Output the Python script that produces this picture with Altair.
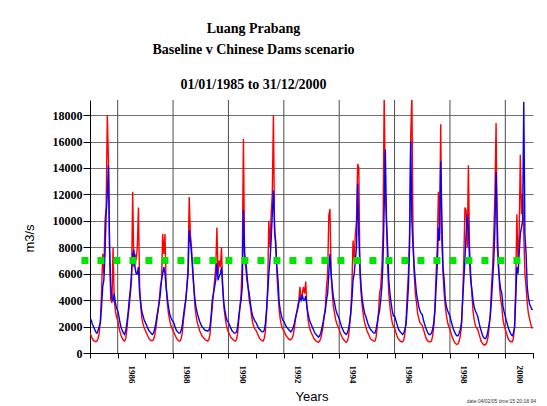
import altair as alt
import pandas as pd

# ---------------- data (semi-monthly samples) ----------------
years = list(range(1985, 2001))
samples_per_year = 24

# red: Baseline (m3/s), 24 values per year, Jan 1 .. Dec 16
baseline = [
    1500, 1300, 1100, 950, 900, 850, 900, 1100, 1500, 2500, 4500, 7500, 6000, 10000, 11000, 18000, 14500, 7500, 4000, 3800, 8000, 4000, 3200, 2700,  # 1985
    2500, 2000, 1600, 1300, 1100, 950, 900, 1100, 1800, 2800, 3500, 4500, 5500, 12200, 6500, 7500, 7000, 8000, 11000, 5000, 3500, 2600, 2200, 1900,  # 1986
    1700, 1500, 1300, 1100, 1000, 950, 950, 1000, 1300, 1800, 2500, 3200, 4000, 5000, 5500, 9000, 7500, 9000, 5000, 3800, 3000, 2500, 2100, 1900,  # 1987
    1700, 1500, 1300, 1100, 1000, 900, 900, 1100, 1500, 2500, 3200, 4000, 5000, 6500, 11800, 9000, 8000, 6000, 5000, 3500, 2800, 2300, 2000, 1700,  # 1988
    1500, 1300, 1200, 1100, 1000, 950, 900, 1000, 1400, 2500, 3500, 4500, 5500, 6500, 9500, 6000, 7000, 6500, 8000, 5000, 3500, 2800, 2200, 1800,  # 1989
    1600, 1400, 1200, 1100, 1000, 950, 900, 1000, 1500, 2500, 3500, 4500, 7000, 16200, 7000, 6500, 5500, 5000, 4000, 3500, 2800, 2300, 2000, 1800,  # 1990
    1700, 1500, 1300, 1100, 1000, 950, 900, 1100, 1600, 3000, 5000, 10000, 8000, 10500, 12000, 18000, 9000, 8500, 6000, 4500, 3200, 2500, 2100, 1800,  # 1991
    1700, 1500, 1300, 1200, 1100, 1000, 1000, 1100, 1300, 1800, 2500, 3000, 3500, 4000, 5000, 4000, 4500, 5000, 4500, 5400, 3500, 2500, 2000, 1700,  # 1992
    1500, 1300, 1100, 1000, 900, 850, 800, 900, 1100, 1500, 2000, 2800, 3500, 5000, 6000, 10400, 10900, 6000, 4500, 3500, 3000, 2500, 2200, 2000,  # 1993
    1800, 1500, 1300, 1100, 1000, 900, 800, 900, 1200, 2000, 3000, 5000, 8500, 7000, 9000, 10000, 14300, 14000, 6000, 4500, 3500, 2800, 2300, 2000,  # 1994
    1700, 1500, 1300, 1100, 1000, 950, 900, 900, 1200, 2000, 3000, 4500, 5000, 6500, 9000, 19500, 12000, 10000, 6500, 4500, 3500, 2800, 2300, 2000,  # 1995
    1900, 1600, 1300, 1100, 1000, 900, 850, 850, 1000, 1500, 2500, 4500, 6000, 9000, 16400, 19500, 9000, 6000, 4500, 3800, 3000, 2600, 2300, 2200,  # 1996
    2100, 1800, 1500, 1200, 1000, 900, 850, 850, 900, 1300, 2000, 3500, 6000, 8000, 12200, 9000, 17300, 8500, 6000, 4500, 3500, 2800, 2300, 2000,  # 1997
    1800, 1500, 1200, 1000, 800, 700, 650, 700, 900, 1300, 2000, 4000, 7000, 11000, 10800, 8000, 14200, 8000, 6000, 4500, 3200, 2500, 2100, 1900,  # 1998
    1800, 1500, 1200, 900, 750, 650, 600, 650, 800, 1200, 2000, 3000, 5000, 6500, 9000, 12000, 17400, 8000, 7000, 5000, 4000, 3500, 2500, 2100,  # 1999
    1800, 1500, 1200, 1000, 900, 850, 850, 1100, 2000, 5000, 10500, 7000, 9000, 15000, 10500, 12000, 9000, 6000, 5000, 3800, 3000, 2600, 2200, 1900,  # 2000
    1900,  # 31/12/2000
]

# blue: Chinese Dams scenario (m3/s)
dams = [
    2600, 2500, 2200, 2000, 1800, 1600, 1500, 1700, 2000, 2300, 3500, 5000, 5500, 7500, 10500, 12000, 14200, 8000, 5000, 4200, 4000, 4500, 3800, 3400,  # 1985
    3200, 2800, 2300, 1900, 1700, 1500, 1400, 1700, 2300, 3000, 4000, 4800, 6000, 7500, 7800, 6500, 6000, 6000, 6500, 4500, 3800, 3100, 2800, 2500,  # 1986
    2300, 2100, 1900, 1700, 1600, 1500, 1400, 1500, 1800, 2200, 2800, 3300, 3800, 4500, 5500, 6000, 6500, 6000, 5000, 4200, 3500, 3000, 2700, 2500,  # 1987
    2400, 2200, 1900, 1700, 1600, 1500, 1500, 1700, 2100, 2800, 3500, 4000, 5000, 6000, 9300, 8500, 7500, 6500, 5000, 4000, 3400, 3000, 2700, 2400,  # 1988
    2200, 2000, 1900, 1800, 1700, 1700, 1650, 1700, 2000, 2800, 4000, 4500, 5000, 5500, 6800, 5500, 5800, 6000, 6500, 5000, 3800, 3200, 2700, 2400,  # 1989
    2300, 2100, 1900, 1700, 1600, 1500, 1500, 1600, 2000, 2800, 3500, 4000, 5000, 10800, 7500, 7000, 6000, 5000, 4500, 3800, 3200, 2800, 2600, 2400,  # 1990
    2300, 2100, 1900, 1800, 1700, 1600, 1600, 1700, 2200, 3200, 4500, 6000, 7000, 8500, 10500, 12300, 9500, 8000, 6500, 5500, 3800, 3200, 2800, 2500,  # 1991
    2400, 2200, 2000, 1900, 1800, 1700, 1600, 1700, 1900, 2200, 2600, 3000, 3300, 3800, 4200, 4000, 4400, 4000, 4000, 4300, 3500, 3000, 2600, 2300,  # 1992
    2100, 1900, 1700, 1500, 1400, 1300, 1200, 1300, 1500, 1900, 2300, 2800, 3200, 4000, 4500, 6000, 7500, 6000, 5000, 4200, 3800, 3300, 3000, 2800,  # 1993
    2600, 2300, 2000, 1800, 1600, 1500, 1400, 1500, 1800, 2300, 3000, 4000, 5500, 6000, 7000, 8000, 12800, 9000, 6500, 5000, 4000, 3500, 3000, 2800,  # 1994
    2500, 2200, 2000, 1800, 1700, 1600, 1500, 1500, 1800, 2300, 2800, 3200, 4000, 5000, 7000, 11000, 15400, 10000, 8000, 5500, 4500, 3800, 3200, 2800,  # 1995
    2800, 2500, 2200, 1900, 1700, 1600, 1500, 1400, 1500, 1800, 2200, 3500, 5000, 8000, 16000, 10000, 8000, 6500, 5500, 4500, 4000, 3500, 3200, 3000,  # 1996
    2900, 2500, 2200, 1900, 1700, 1500, 1400, 1400, 1500, 1800, 2300, 3200, 5000, 6500, 9500, 8500, 14500, 10000, 6500, 5500, 4000, 3500, 3200, 3000,  # 1997
    2800, 2400, 2100, 1800, 1600, 1400, 1300, 1300, 1500, 1800, 2300, 4000, 5500, 7000, 9000, 10500, 9500, 7000, 5500, 4800, 4000, 3500, 3200, 3000,  # 1998
    2800, 2400, 2000, 1700, 1400, 1200, 1100, 1100, 1300, 1700, 2200, 2800, 4000, 5500, 7000, 9500, 13700, 10000, 6500, 5500, 4800, 4500, 3500, 3100,  # 1999
    2800, 2400, 2100, 1800, 1600, 1400, 1300, 1500, 1900, 4000, 6500, 6000, 7500, 9000, 9500, 10000, 19000, 9000, 7500, 5000, 4200, 3700, 3500, 3300,  # 2000
    3300,  # 31/12/2000
]

series_names = ["Baseline", "Chinese Dams scenario"]
series_colors = ["#ff0000", "#0000ff"]

grid_years = [1986, 1988, 1990, 1992, 1994, 1996, 1998, 2000]
tick_years = list(range(1985, 2002))
y_ticks = list(range(0, 18001, 2000))

threshold = 7000
threshold_from = 1984.69
threshold_to = 2000.85

title_lines = ["Luang Prabang", "Baseline v Chinese Dams scenario"]
subtitle_line = "01/01/1985 to 31/12/2000"
stamp = "date:04/02/05  time:15:20:18.94"

# ---------------- tables ----------------
t_vals = [y + i / samples_per_year for y in years for i in range(samples_per_year)] + [2001.0]
lines_df = pd.concat([
    pd.DataFrame({"t": t_vals, "flow": baseline, "series": series_names[0], "order": 0}),
    pd.DataFrame({"t": t_vals, "flow": dams, "series": series_names[1], "order": 1}),
])
grid_df = pd.DataFrame({"t": grid_years})
thr_df = pd.DataFrame({"t": [threshold_from], "t2": [threshold_to], "flow": [threshold]})
stamp_df = pd.DataFrame({"label": [stamp]})

SERIF = "Liberation Serif"
SANS = "Liberation Sans"

x_scale = alt.Scale(domain=[1985, 2001], nice=False, zero=False)
y_scale = alt.Scale(domain=[0, 19140], nice=False)

x_axis = alt.Axis(
    values=tick_years, format="d", grid=False,
    labelExpr="(datum.value % 2 == 0 && datum.value <= 2000) ? datum.label : ''",
    labelAngle=90, labelOffset=13.8, labelPadding=7, labelOverlap=False, labelFlush=False,
    labelFont=SERIF, labelFontWeight="bold", labelFontSize=9, labelColor="black",
    tickSize=5, tickColor="black", domainColor="black",
    titleFont=SANS, titleFontWeight="normal", titleFontSize=13, titleColor="black", titlePadding=7,
)
y_axis = alt.Axis(
    values=y_ticks, format="d", grid=True, gridColor="#707070", gridWidth=1.2,
    labelFont=SERIF, labelFontWeight="bold", labelFontSize=12, labelColor="black", labelPadding=1,
    tickSize=7, tickColor="black", domainColor="black",
    titleFont=SANS, titleFontWeight="normal", titleFontSize=13, titleColor="black", titlePadding=16,
    titleY=138,
)

X = alt.X("t:Q", scale=x_scale, axis=x_axis, title="Years")
Y = alt.Y("flow:Q", scale=y_scale, axis=y_axis, title="m3/s")

vgrid = alt.Chart(grid_df).mark_rule(color="#4d4d4d", strokeWidth=1).encode(x=X)

lines = alt.Chart(lines_df).mark_line(strokeWidth=1.4, clip=True).encode(
    x=X, y=Y,
    color=alt.Color("series:N", scale=alt.Scale(domain=series_names, range=series_colors), legend=None),
    order=alt.Order("order:Q"),
)

thr = alt.Chart(thr_df).mark_rule(color="#00e600", strokeWidth=7, strokeDash=[7, 9], strokeCap="butt").encode(
    x=X, x2="t2:Q", y=Y
)

stamp_text = alt.Chart(stamp_df).mark_text(
    align="right", baseline="alphabetic", font=SANS, fontSize=5, color="#333333"
).encode(x=alt.value(446), y=alt.value(303), text="label:N")

chart = alt.layer(vgrid, lines, thr, stamp_text).properties(
    width=443, height=253,
    padding={"left": 82, "top": 92, "right": 6, "bottom": 52},
    autosize=alt.AutoSizeParams(type="none"),
    background="white",
    title=alt.TitleParams(
        text=title_lines, subtitle=subtitle_line,
        font=SERIF, fontSize=14, fontWeight="bold", color="black", lineHeight=21,
        subtitleFont=SERIF, subtitleFontSize=14, subtitleFontWeight="bold", subtitleColor="black",
        subtitlePadding=21, offset=8, anchor="middle", frame="group", dx=-58,
    ),
).configure_view(stroke=None)

chart.save("out.html", embed_options={"renderer": "svg", "actions": False})
